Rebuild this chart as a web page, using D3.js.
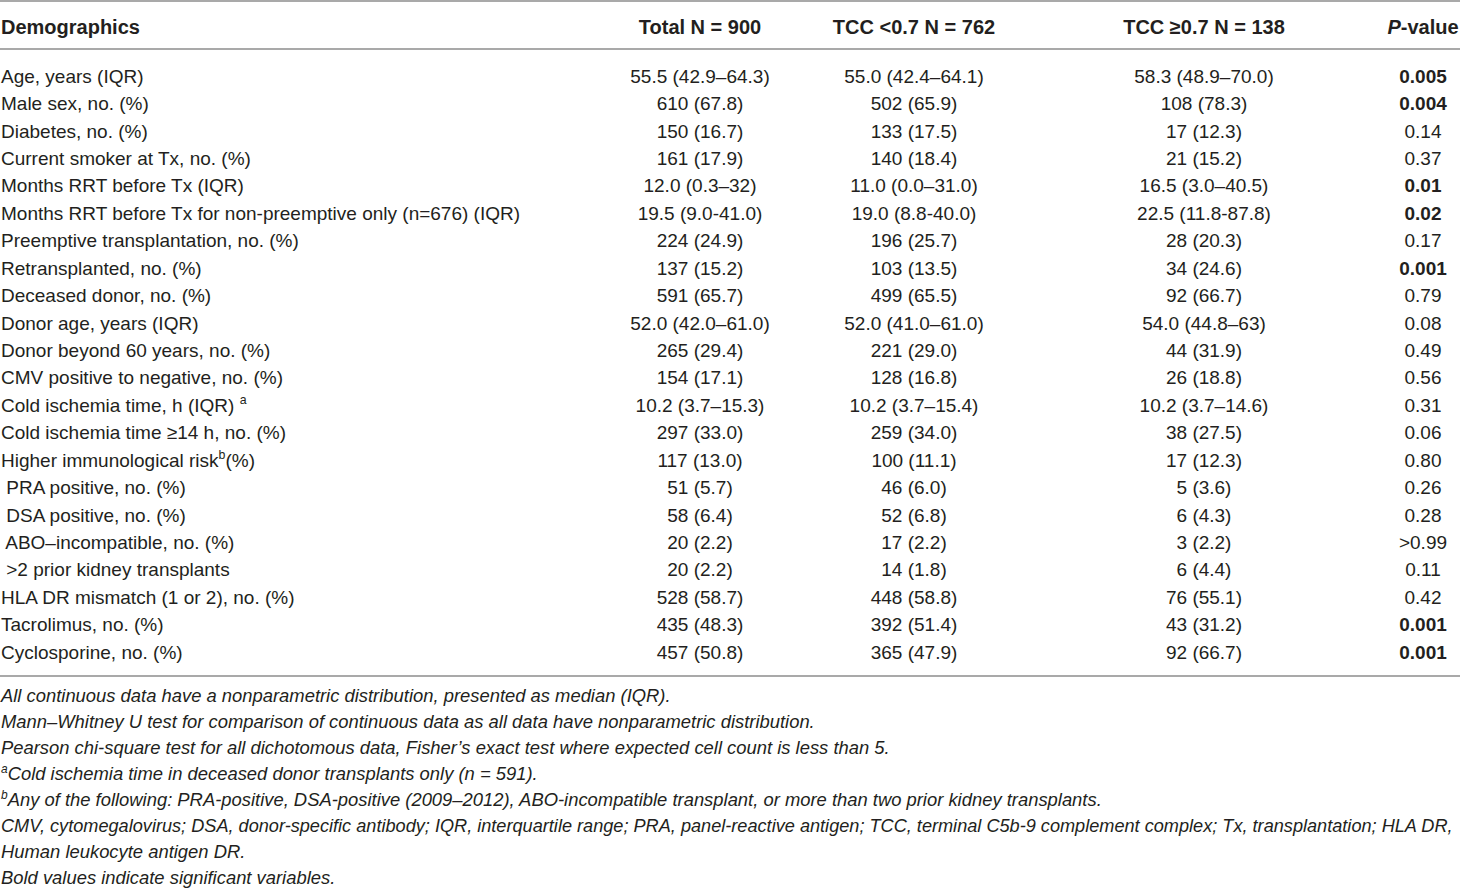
<!DOCTYPE html>
<html>
<head>
<meta charset="utf-8">
<script src="https://cdn.jsdelivr.net/npm/d3@7"></script>
<style>
  body { margin: 0; background: #fff; }
  svg text { font-family: "Liberation Sans", Arial, sans-serif; fill: #231f20; }
</style>
</head>
<body>
<div id="table"></div>
<script>
// row labels (leading space = indented sub item)
const labels = [
  "Age, years (IQR)", "Male sex, no. (%)", "Diabetes, no. (%)", "Current smoker at Tx, no. (%)",
  "Months RRT before Tx (IQR)", "Months RRT before Tx for non-preemptive only (n=676) (IQR)",
  "Preemptive transplantation, no. (%)", "Retransplanted, no. (%)", "Deceased donor, no. (%)",
  "Donor age, years (IQR)", "Donor beyond 60 years, no. (%)", "CMV positive to negative, no. (%)",
  "Cold ischemia time, h (IQR)", "Cold ischemia time \u226514 h, no. (%)", "Higher immunological risk",
  " PRA positive, no. (%)", " DSA positive, no. (%)", " ABO\u2013incompatible, no. (%)",
  " >2 prior kidney transplants", "HLA DR mismatch (1 or 2), no. (%)", "Tacrolimus, no. (%)",
  "Cyclosporine, no. (%)"
];
// superscript footnote marks + trailing text, by row index
const labelSup = {12: {sup: "a", pre: " ", post: ""}, 14: {sup: "b", pre: "", post: "(%)"}};

const totalVals = [
  "55.5 (42.9\u201364.3)", "610 (67.8)", "150 (16.7)", "161 (17.9)", "12.0 (0.3\u201332)",
  "19.5 (9.0-41.0)", "224 (24.9)", "137 (15.2)", "591 (65.7)", "52.0 (42.0\u201361.0)",
  "265 (29.4)", "154 (17.1)", "10.2 (3.7\u201315.3)", "297 (33.0)", "117 (13.0)", "51 (5.7)",
  "58 (6.4)", "20 (2.2)", "20 (2.2)", "528 (58.7)", "435 (48.3)", "457 (50.8)"
];
const lowVals = [
  "55.0 (42.4\u201364.1)", "502 (65.9)", "133 (17.5)", "140 (18.4)", "11.0 (0.0\u201331.0)",
  "19.0 (8.8-40.0)", "196 (25.7)", "103 (13.5)", "499 (65.5)", "52.0 (41.0\u201361.0)",
  "221 (29.0)", "128 (16.8)", "10.2 (3.7\u201315.4)", "259 (34.0)", "100 (11.1)", "46 (6.0)",
  "52 (6.8)", "17 (2.2)", "14 (1.8)", "448 (58.8)", "392 (51.4)", "365 (47.9)"
];
const highVals = [
  "58.3 (48.9\u201370.0)", "108 (78.3)", "17 (12.3)", "21 (15.2)", "16.5 (3.0\u201340.5)",
  "22.5 (11.8-87.8)", "28 (20.3)", "34 (24.6)", "92 (66.7)", "54.0 (44.8\u201363)",
  "44 (31.9)", "26 (18.8)", "10.2 (3.7\u201314.6)", "38 (27.5)", "17 (12.3)", "5 (3.6)",
  "6 (4.3)", "3 (2.2)", "6 (4.4)", "76 (55.1)", "43 (31.2)", "92 (66.7)"
];
const pVals = [
  "0.005", "0.004", "0.14", "0.37", "0.01", "0.02", "0.17", "0.001", "0.79", "0.08", "0.49",
  "0.56", "0.31", "0.06", "0.80", "0.26", "0.28", ">0.99", "0.11", "0.42", "0.001", "0.001"
];
const significant = [
  true, true, false, false, true, true, false, true, false, false, false,
  false, false, false, false, false, false, false, false, false, true, true
];

const columns = ["total", "low", "high", "p"];
const headers = ["Total N = 900", "TCC <0.7 N = 762", "TCC \u22650.7 N = 138", "-value"];

const footnotes = [
  {sup: "", text: "All continuous data have a nonparametric distribution, presented as median (IQR)."},
  {sup: "", text: "Mann\u2013Whitney U test for comparison of continuous data as all data have nonparametric distribution."},
  {sup: "", text: "Pearson chi-square test for all dichotomous data, Fisher\u2019s exact test where expected cell count is less than 5."},
  {sup: "a", text: "Cold ischemia time in deceased donor transplants only (n = 591)."},
  {sup: "b", text: "Any of the following: PRA-positive, DSA-positive (2009\u20132012), ABO-incompatible transplant, or more than two prior kidney transplants."},
  {sup: "", text: "CMV, cytomegalovirus; DSA, donor-specific antibody; IQR, interquartile range; PRA, panel-reactive antigen; TCC, terminal C5b-9 complement complex; Tx, transplantation; HLA DR,"},
  {sup: "", text: "Human leukocyte antigen DR."},
  {sup: "", text: "Bold values indicate significant variables."}
];

const width = 1460, height = 889;
const fs = 19;      // body
const fsHead = 20;  // header row
const fsNote = 18.4; // footnotes
const base = 0.35;  // em shift to centre text on its row

const svg = d3.select("#table").append("svg")
    .attr("width", width)
    .attr("height", height);

const y = d3.scalePoint().domain(d3.range(labels.length)).range([76, 652]);
const x = d3.scaleOrdinal().domain(columns).range([700, 914, 1204, 1423]);
const yNote = d3.scalePoint().domain(d3.range(footnotes.length)).range([696, 878]);

// horizontal rules
const rules = [1, 49, 676];
svg.selectAll("line.rule")
  .data(rules)
  .enter()
  .append("line")
  .attr("class", "rule")
  .attr("x1", 0).attr("x2", width)
  .attr("y1", d => d).attr("y2", d => d)
  .attr("stroke", "#8c8c8c")
  .attr("stroke-width", 1.6);

// header
svg.append("text")
  .attr("x", 1).attr("y", 27 + fsHead * base)
  .attr("font-size", fsHead).attr("font-weight", "bold")
  .text("Demographics");

const head = svg.selectAll("text.head")
  .data(columns)
  .enter()
  .append("text")
  .attr("class", "head")
  .attr("x", d => x(d))
  .attr("y", 27 + fsHead * base)
  .attr("text-anchor", "middle")
  .attr("font-size", fsHead)
  .attr("font-weight", "bold");
head.each(function(d, i) {
  const t = d3.select(this);
  if (d === "p") t.append("tspan").attr("font-style", "italic").text("P");
  t.append("tspan").text(headers[i]);
});

// row labels
const lab = svg.selectAll("text.lab")
  .data(labels)
  .enter()
  .append("text")
  .attr("class", "lab")
  .attr("x", 1)
  .attr("y", (d, i) => y(i) + fs * base)
  .attr("font-size", fs)
  .attr("xml:space", "preserve");
lab.each(function(d, i) {
  const t = d3.select(this);
  t.append("tspan").text(d);
  const s = labelSup[i];
  if (s) {
    t.append("tspan").text(s.pre);
    t.append("tspan").attr("font-size", fs * 0.65).attr("dy", -fs * 0.4).text(s.sup);
    t.append("tspan").attr("dy", fs * 0.4).text(s.post);
  }
});

// value cells
const cols = [totalVals, lowVals, highVals, pVals];
columns.forEach(function(c, ci) {
  svg.selectAll("text.c" + c)
    .data(cols[ci])
    .enter()
    .append("text")
    .attr("class", "c" + c)
    .attr("x", x(c))
    .attr("y", (d, i) => y(i) + fs * base)
    .attr("text-anchor", "middle")
    .attr("font-size", fs)
    .attr("font-weight", (d, i) => c === "p" && significant[i] ? "bold" : "normal")
    .text(d => d);
});

// footnotes
const notes = svg.selectAll("text.note")
  .data(footnotes)
  .enter()
  .append("text")
  .attr("class", "note")
  .attr("x", 1)
  .attr("y", (d, i) => yNote(i) + fsNote * base)
  .attr("font-size", fsNote)
  .attr("font-style", "italic");
notes.each(function(d) {
  const t = d3.select(this);
  if (d.sup) t.append("tspan").attr("font-size", fsNote * 0.65).attr("dy", -fsNote * 0.4).text(d.sup);
  t.append("tspan").attr("dy", d.sup ? fsNote * 0.4 : null).text(d.text);
  // shrink a line that would run past the right edge
  const maxW = width - 8;
  const len = this.getComputedTextLength();
  if (len > maxW) t.attr("font-size", fsNote * maxW / len);
});
</script>
</body>
</html>
